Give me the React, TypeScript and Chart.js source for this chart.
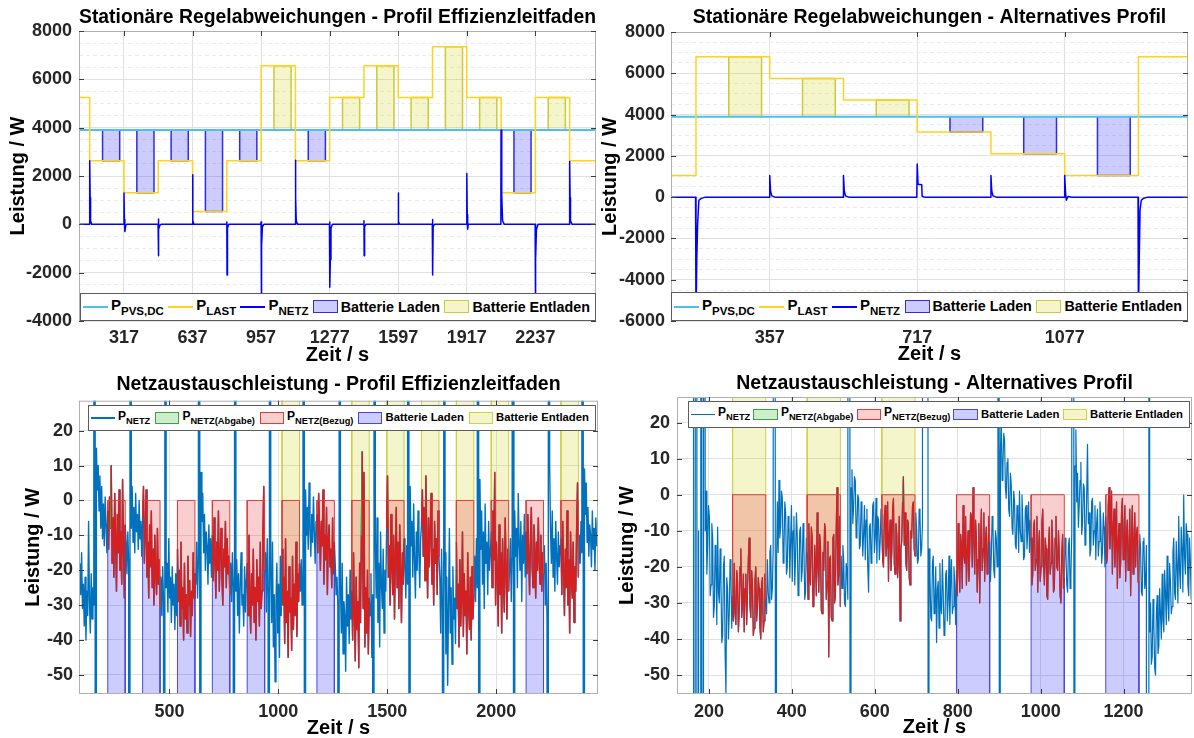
import React, { useEffect, useRef } from "react";
import { Chart, registerables } from "chart.js";

Chart.register(...registerables);

const FONT = '"Liberation Sans", Arial, Helvetica, sans-serif';
Chart.defaults.font.family = FONT;

// ================= DATA =================
// --- Stationäre Regelabweichungen - Profil Effizienzleitfaden (top left)
const tlXRange = [107, 2520];
const tlYRange = [-4000, 8000];
const tlXTicks = [317, 637, 957, 1277, 1597, 1917, 2237];
const tlYMajor = [-4000, -2000, 0, 2000, 4000, 6000, 8000];
const tlStepTimes = [157, 317, 477, 637, 797, 957, 1117, 1277, 1437, 1597, 1757, 1917, 2077, 2237, 2397];
const tlLoad = [5250, 2630, 1310, 2630, 530, 2630, 6560, 2630, 5250, 6560, 5250, 7350, 5250, 1310, 5250, 2630];
const tlPvs = 3900;
const tlBatStart = [217, 377, 537, 697, 857, 1017, 1177, 1337, 1497, 1657, 1817, 1977, 2137, 2297];
const tlBatEnd = [297, 457, 617, 777, 937, 1097, 1257, 1417, 1577, 1737, 1897, 2057, 2217, 2377];
const tlNetz = [
  [107, 0],
  [156, 0], [157, 2630], [159, 1100], [161, 150], [166, 0],
  [316, 0], [317, 1300], [319, 200], [321, -300], [325, -40], [330, 0],
  [476, 0], [477, 220], [478, -1300], [480, -200], [485, -30], [490, 0],
  [636, 0], [637, 2050], [639, 150], [643, 0],
  [796, 0], [797, 100], [798, -2100], [800, -150], [806, 0],
  [956, 0], [957, 100], [958, -3900], [960, -900], [963, -100], [970, 0],
  [1116, 0], [1117, 2650], [1119, 1100], [1121, 150], [1127, 0],
  [1276, 0], [1277, 100], [1278, -2600], [1280, -1450], [1283, -150], [1290, 0],
  [1436, 0], [1437, 150], [1438, -1300], [1440, -100], [1446, 0],
  [1596, 0], [1597, 1300], [1599, 100], [1604, 0],
  [1756, 0], [1757, 200], [1758, -2100], [1760, -100], [1766, 0],
  [1916, 0], [1917, 2100], [1919, 400], [1921, -200], [1924, 0],
  [2076, 0], [2077, 3900], [2079, 2450], [2081, 1200], [2084, 150], [2092, 0],
  [2236, 0], [2237, -3900], [2239, -1450], [2242, -200], [2250, 0],
  [2396, 0], [2397, 2600], [2399, 1100], [2401, 150], [2408, 0],
  [2520, 0],
];

// --- Stationäre Regelabweichungen - Alternatives Profil (top right)
const trXRange = [116, 1378];
const trYRange = [-6000, 8000];
const trXTicks = [357, 717, 1077];
const trYMajor = [-6000, -4000, -2000, 0, 2000, 4000, 6000, 8000];
const trStepTimes = [177, 357, 537, 717, 897, 1077, 1257];
const trLoad = [1050, 6800, 5750, 4700, 3150, 2100, 1050, 6800];
const trPvs = 3900;
const trBatStart = [257, 437, 617, 797, 977, 1157];
const trBatEnd = [337, 517, 697, 877, 1057, 1237];
const trNetz = [
  [116, 0],
  [176, 0], [177, -5750], [179, -3000], [181, -1300], [184, -150], [190, -60], [200, 0],
  [356, 0], [357, 1050], [359, 300], [362, 60], [370, 0],
  [536, 0], [537, 1050], [539, 300], [542, 60], [550, 0],
  [716, 0], [717, 1600], [719, 620], [728, 600], [729, 40], [735, 0],
  [896, 0], [897, 1050], [899, 300], [902, 60], [910, 0],
  [1076, 0], [1077, 1050], [1079, 250], [1081, -150], [1085, 30], [1095, 0],
  [1256, 0], [1257, -5750], [1259, -3000], [1261, -600], [1264, -150], [1270, -50], [1280, 0],
  [1378, 0],
];

// --- Netzaustauschleistung - Profil Effizienzleitfaden (bottom left), samples every 4 s from t = 89 s
const blXRange = [85, 2467];
const blYRange = [-55.5, 28.6];
const blXTicks = [500, 1000, 1500, 2000];
const blYTicks = [-50, -40, -30, -20, -10, 0, 10, 20];
const blT0 = 89;
const blDt = 4;
const blNetz = [
  -18, -27, -15, -31, -24, -36, -22, -40, -26, -33, -6, -29, -38, -21, -34, -25, -30,
  1500, -1200, 15, 3, 10, -3, 7, -8, 4, -11, -1, -13, 1, -7, -15,
  -3, -14, 1, -8, 10, -18, -5, -22, 2, -11, -26, -4, -15, 3, -20, -9, -24, 6, -13, -28, -7, -12, -21, -9, -18,
  -1400, 1400, -8, 4, -12, -2, -15, 2, -9, -4, -14, 0, -11, -6, -16,
  -5, 4, -18, -9, 3, -22, -12, -28, -7, -19, -3, -25, -14, -30, -10, -21, -27, -8, -24, -17, -31, -22, -33, -19, -29,
  -1400, 1400, -25, -18, -32, -11, -28, -22, -35, -19, -30, -24, -37, -21, -33,
  -14, -29, -20, -36, -12, -31, -25, -40, -18, -34, -27, -38, -16, -30, -23, -39, -26, -33, -15, -28, -21, -24, -12, -28, -17,
  1500, -1200, 8, -6, 2, -15, -4, -20, -9, -13, -24, -7, -18, -11, -22,
  -10, -23, -5, -17, -28, -12, -20, -3, -26, -15, -8, -22, -30, -14, -19, -6, -25, -11, -21, -16, -27, -18, -29, -15, -25,
  -1400, 1400, -26, -17, -33, -21, -38, -24, -15, -30, -27, -36, -19, -32, -23,
  -18, -33, -10, -27, -38, -21, -30, -14, -35, -25, -40, -17, -29, -22, -36, -12, -31, -26, -9, 4, -20, -15, -32, -11, -27,
  -1400, 1400, -20, -35, -12, -42, -27, -52, -30, -18, -38, -24, -45, -16, -33,
  -14, -30, -22, -41, -11, -35, -26, -45, -19, -32, -28, -43, -16, -37, -24, -33, -12, -39, -21, -29, -18, -26, -17, -30, -22,
  1500, -1200, 3, -10, -2, -14, 5, -8, -16, -4, -12, 1, -9, -18, -6,
  -4, -15, 2, -9, -20, -6, -13, 3, -24, -10, -17, -2, -27, -11, -7, -19, -14, -25, -5, -21, -12, -18, -27, -22, -30,
  -1400, 1400, -24, -38, -18, -44, -29, -33, -49, -22, -36, -27, -41, -20, -34,
  -26, -40, -15, -33, -46, -22, -37, -29, -48, -18, -35, -10, 14, -31, 8, -42, -25, -38, -20, -44, -28, -33, -21, -45, -27,
  -1400, 1400, -12, -28, -5, -35, -18, -42, -9, -24, -31, -14, -38, -20, -26,
  -8, 7, -22, -13, -30, -4, -19, -27, -10, -34, -16, -2, -25, -12, -31, -7, -21, -35, -15, -24, -11, -19, -28, -13, -24,
  1500, -1200, 4, -13, -6, -22, -1, -17, -28, -9, -20, -3, -15, -25, -11,
  -7, 3, -16, -2, -23, 7, -12, -28, -5, -19, -9, 2, -24, -14, -30, -6, -18, -11, -27, -3, -16, -22, -38, -14, -31,
  -1400, 1400, -15, -44, -22, -53, -30, -8, -38, -25, -47, -19, -34, -28, -41,
  -12, -31, -24, -42, -17, -36, -28, -9, -39, -21, -33, -26, -44, -15, -30, -37, -22, -40, -19, -34, -27, -16, -29, -11, -25,
  1500, -1200, 6, -14, -3, -24, -9, -31, -1, -18, -12, -27, -6, -20, -15,
  -9, -25, -3, -17, 8, -30, -12, -21, -36, -7, -27, -15, -38, -11, -23, -32, -5, -19, -34, -14, -26, -20, -11, -29, -16,
  1500, -1200, -3, -16, -8, -25, 2, -12, -20, -6, -29, -10, -18, -4, -22,
  -9, -21, -4, -16, -27, -11, -2, -19, -25, -7, -14, -28, -12, -20, -5, -17, -24, -10, -26, -15, -21, -13, -30, -18, -34,
  -1400, 1400, 10, -8, -18, -3, -22, -11, -26, -6, -16, -24, -9, -19, -13,
  -11, -27, -6, -20, -33, -14, -25, -3, -30, -17, -38, -9, -23, -28, -12, -35, -19, -26, -8, 5, -22, -10, -18, -6, -15,
  1500, -1200, 9, -4, 5, -12, -2, -16, -7, -10, -19, -3, -14, -8, -20, -5, -13, -9,
];

// --- Netzaustauschleistung - Alternatives Profil (bottom right), samples every 2 s from t = 161 s
const brXRange = [123, 1365];
const brYRange = [-55.25, 27.1];
const brXTicks = [200, 400, 600, 800, 1000, 1200];
const brYTicks = [-50, -40, -30, -20, -10, 0, 10, 20];
const brT0 = 161;
const brDt = 2;
const brNetz = [
  900, -30, -900, -20, 700, -25, -1200, -10,
  // 177 .. 255
  -4000, -2000, 900, -15, -800, -20, 500, -10,
  1, -22, -14, -3, -6, -28, -25, -8, -12, -34, -31, -14, -19, -36, -9, -27,
  -30, -15, -24, -41, -39, -20, -17, -44, -55, -23, -26, -40, -33, -18, -22, -37,
  // 257 .. 337
  -28, -35, -19, -33, -36, -21, -24, -38, -33, -20, -15, -34, -30, -22, -38, -26, -22, -36, -27, -18,
  -12, -31, -34, -21, -25, -39, -37, -24, -20, -35, -31, -23, -26, -37, -40, -25, -23, -38, -35, -22, -29,
  -33, -18, -27, -30, -16, -14, -29, -26, -15,
  // 357 .. 435
  1050, 300, -300, -20, -2, -16, 4, -12, -9, 1, -1, -19, -15, -2, -5, -22, -20, -6, -8, -23,
  -13, -3, -24, -10, -6, -25, -17, -5, -11, -28, -26, -10, -9, -24, -21, -8, -14, -29, -27, -12,
  // 437 .. 517
  -16, -29, -8, -22, -25, -9, -12, -31, -30, -14, -19, -28, -5, -20, -27, -11, -14, -32, -33, -16,
  -21, -8, -10, -29, -24, -13, -45, -18, -17, -34, -35, -12, -11, -30, -28, -9, 2, -25, -22, -6, -31,
  -17, -26, -14, -18, -30, -31, -19, -21, -29,
  // 537 .. 615
  1050, 300, -300, 2, 7, -8, -3, 5, 4, -12, -9, 0, -1, -15, -14, -2, -6, -17, -11, -3,
  -18, -7, -4, -20, -27, -9, -8, -19, -15, -3, -2, -16, -12, -1, -19, -6, -7, -18, -13, -4,
  // 617 .. 697
  -9, -18, -20, -6, -3, -17, -14, -2, -24, -11, -7, -21, -16, -4, -1, -19, -22, -8, -11, -23,
  -18, -6, -35, -15, -13, -2, 5, -14, -5, -19, -21, -7, -8, -23, -25, -10, -12, -3, -2, -15, -17,
  -5, -10, -19, -18, -4, -6, -17, -15, -8,
  // 717 .. 795
  1600, 620, 600, 600, 600, 600, -300, -15, -22, -34, -35, -19, -17, -33, -30, -20, -41, -26, -24, -37,
  -19, -31, -33, -18, -27, -39, -38, -22, -21, -35, -29, -17, -36, -24, -18, -33, -31, -20, -25, -36,
  // 797 .. 877
  -21, -28, -8, -19, -27, -11, -14, -26, -3, -17, -19, -6, -25, -16, -10, -24, -16, -5, -6, -20,
  2, -13, -22, -7, -12, -27, -18, -8, -30, -14, -4, -21, -15, -5, -24, -12, -9, -22, -20, -6, -13,
  -24, -17, -6, -9, -21, -23, -10, -12, -20,
  // 897 .. 975
  1050, 300, -300, 12, 22, 4, 8, 17, 15, 2, -1, 9, 10, -4, -6, 6, 3, -9, -11, 1,
  -2, -14, -15, -3, -5, -16, 1, -10, -13, 0, -8, -18, -17, -4, -3, -15, -10, -2, -16, -7,
  // 977 .. 1057
  -12, -25, -22, -9, -7, -21, -18, -6, -27, -15, -10, -24, -20, -8, -4, -19, -25, -12, -15, -28,
  -29, -14, -9, -22, -19, -7, -13, -27, -26, -12, -6, -20, -21, -10, -17, -28, -30, -16, -11, -26, -23,
  -12, -16, -25, -27, -14, -12, -26, -22, -11,
  // 1077 .. 1155
  1050, 300, -300, 8, 18, -2, 6, -9, -3, 4, 9, -11, -8, 3, 2, -14, -12, 0, 14, -8,
  -5, -17, -15, -2, -1, -14, -10, -3, -18, -8, -4, -17, -13, -2, -7, -19, -16, -5, -9, -20,
  // 1157 .. 1237
  -6, -19, -17, -3, 2, -15, -10, 1, -22, -9, -4, -20, -14, -2, -26, -13, -8, -23, -19, -5,
  -1, -18, -12, -3, -24, -11, -7, -21, -16, -4, -28, -12, -3, -22, -13, -5, -20, -11, -9, -24, -25,
  -11, -15, -27, -28, -13, -12, -26, -24, -14,
  // 1257 .. 1365
  -4000, -2000, 800, -38, -30, -47, -45, -29, -36, -48, -50, -33, -28, -44, -42, -26, -33, -40, -22, -35,
  -38, -21, -27, -36, -17, -30, -35, -19, -24, -33, -31, -16, -12, -27, -29, -13, -20, -30, -6, -21,
  -26, -9, -15, -27, 0, -17, -22, -8, -11, -25, -28, -12, -18, -29, -24,
];

// ================= STYLE =================
const PVS_C = "#4DBEEE";
const LAST_C = "#FFD21F";
const NETZ_C = "#0000FF";
const LADEN_FILL = "rgba(0,0,255,0.2)";
const LADEN_EDGE = "#2E2EE0";
const ENT_FILL = "rgba(204,204,0,0.2)";
const ENT_EDGE = "#CACA3A";
const NETZ_BLUE = "#0072BD";
const RED_C = "#D42020";
const RED_EDGE = "#D84040";
const PINK_FILL = "rgba(230,60,60,0.25)";
const GREEN_C = "#3CA03C";
const GREEN_FILL = "rgba(0,170,0,0.2)";
const TICK_FONT = { family: FONT, size: 18, weight: "bold" as const };
const AXT_FONT = { family: FONT, size: 20, weight: "bold" as const, lineHeight: 1 };
const TITLE_FONT = { family: FONT, size: 19.5, weight: "bold" as const, lineHeight: 1.2 };

const framePlugin = {
  id: "frame",
  afterDatasetsDraw(chart: any) {
    const { ctx, chartArea: a, scales } = chart;
    ctx.save();
    ctx.strokeStyle = "#b0b0b0";
    ctx.lineWidth = 1;
    ctx.strokeRect(a.left + 0.5, a.top + 0.5, a.right - a.left - 1, a.bottom - a.top - 1);
    ctx.strokeStyle = "#3c3c3c";
    ctx.beginPath();
    scales.x.ticks.forEach((t: any) => {
      const px = Math.round(scales.x.getPixelForValue(t.value)) + 0.5;
      ctx.moveTo(px, a.top);
      ctx.lineTo(px, a.top + 5);
      ctx.moveTo(px, a.bottom);
      ctx.lineTo(px, a.bottom - 5);
    });
    scales.y.ticks.forEach((t: any) => {
      if (!t.label) return;
      const py = Math.round(scales.y.getPixelForValue(t.value)) + 0.5;
      ctx.moveTo(a.left, py);
      ctx.lineTo(a.left + 5, py);
      ctx.moveTo(a.right, py);
      ctx.lineTo(a.right - 5, py);
    });
    ctx.stroke();
    ctx.restore();
  },
};

function gridValues(min: number, max: number, step: number) {
  const out: number[] = [];
  for (let v = Math.ceil(min / step) * step; v <= max + 1e-9; v += step) out.push(v);
  return out;
}

function yAxis(o: any) {
  return {
    type: "linear",
    position: "left",
    min: o.range[0],
    max: o.range[1],
    afterFit: (s: any) => {
      s.width = o.width;
    },
    afterBuildTicks: (s: any) => {
      s.ticks = o.grid.map((v: number) => ({ value: v }));
    },
    ticks: {
      autoSkip: false,
      padding: o.tickPad,
      color: "#262626",
      font: TICK_FONT,
      callback: (v: number) => (o.major.includes(v) ? String(v) : ""),
    },
    grid: {
      drawTicks: false,
      lineWidth: 1,
      color: (c: any) => (c.tick && o.major.includes(c.tick.value) ? "#e1e1e1" : "#ebebeb"),
    },
    border: {
      display: false,
      dash: (c: any) => (c.tick && !o.major.includes(c.tick.value) ? [4, 3] : []),
    },
    title: { display: true, text: "Leistung / W", color: "#000", font: AXT_FONT, padding: { top: o.titlePad, bottom: 0 } },
  };
}

function xAxis(o: any) {
  return {
    type: "linear",
    position: "bottom",
    min: o.range[0],
    max: o.range[1],
    afterFit: (s: any) => {
      s.height = o.height;
    },
    afterBuildTicks: (s: any) => {
      s.ticks = o.ticks.map((v: number) => ({ value: v }));
    },
    ticks: {
      autoSkip: false,
      maxRotation: 0,
      padding: o.tickPad,
      color: "#262626",
      font: TICK_FONT,
      callback: (v: number) => String(v),
    },
    grid: { drawTicks: false, lineWidth: 1, color: "#e1e1e1" },
    border: { display: false },
    title: { display: true, text: "Zeit / s", color: "#000", font: AXT_FONT, padding: { top: 0, bottom: o.titlePad } },
  };
}

function makeConfig(o: any, datasets: any[]) {
  return {
    type: "line",
    data: { datasets },
    plugins: [framePlugin],
    options: {
      animation: false,
      responsive: false,
      maintainAspectRatio: false,
      events: [],
      layout: { padding: { left: o.padL, right: o.padR, top: 0, bottom: 0 } },
      elements: {
        point: { radius: 0, hoverRadius: 0 },
        line: { tension: 0, borderJoinStyle: "round", borderCapStyle: "butt" },
      },
      plugins: {
        legend: { display: false },
        tooltip: { enabled: false },
        title: {
          display: true,
          text: o.title,
          color: "#000",
          font: TITLE_FONT,
          fullSize: false,
          padding: { top: o.titleTop, bottom: o.titleBottom },
        },
      },
      scales: { x: xAxis(o.x), y: yAxis(o.y) },
    },
  };
}

function topDatasets(o: any) {
  const [x0, x1] = o.xRange;
  const ds: any[] = [];
  o.batStart.forEach((s: number, i: number) => {
    const e = o.batEnd[i];
    const level = o.load[i + 1];
    const laden = level < o.pvs;
    ds.push({
      data: [
        { x: s, y: o.pvs },
        { x: s, y: level },
        { x: e, y: level },
        { x: e, y: o.pvs },
      ],
      borderColor: laden ? LADEN_EDGE : ENT_EDGE,
      backgroundColor: laden ? LADEN_FILL : ENT_FILL,
      borderWidth: 1.5,
      fill: { value: o.pvs },
      order: 4,
    });
  });
  ds.push({
    data: [
      { x: x0, y: o.pvs },
      { x: x1, y: o.pvs },
    ],
    borderColor: PVS_C,
    borderWidth: 2,
    fill: false,
    order: 3,
  });
  const lastPts = [
    { x: x0, y: o.load[0] },
    ...o.steps.map((t: number, i: number) => ({ x: t, y: o.load[i + 1] })),
    { x: x1, y: o.load[o.load.length - 1] },
  ];
  ds.push({ data: lastPts, stepped: true, borderColor: LAST_C, borderWidth: 1.5, fill: false, order: 2 });
  ds.push({
    data: o.netz.map((p: number[]) => ({ x: p[0], y: p[1] })),
    borderColor: NETZ_C,
    borderWidth: 1.5,
    fill: false,
    order: 1,
  });
  return ds;
}

function bottomDatasets(o: any) {
  const pts = o.netz.map((v: number, i: number) => ({ x: o.t0 + i * o.dt, y: v }));
  const ds: any[] = [{ data: pts, borderColor: NETZ_BLUE, borderWidth: o.lw, fill: false, order: 4 }];
  o.batStart.forEach((s: number, k: number) => {
    const e = o.batEnd[k];
    const seg = pts.slice(Math.round((s - o.t0) / o.dt), Math.round((e - o.t0) / o.dt) + 1);
    const laden = o.load[k + 1] < o.pvs;
    const far = laden ? -1000 : 1000;
    const edge = laden ? "#4848E0" : "#D0D040";
    const n = seg.length + 2;
    ds.push({
      data: [{ x: s, y: far }, ...seg.map((p: any) => ({ ...p })), { x: e, y: far }],
      backgroundColor: laden ? LADEN_FILL : ENT_FILL,
      borderColor: "rgba(0,0,0,0)",
      borderWidth: 1,
      fill: { value: far },
      segment: {
        borderColor: (c: any) => (c.p0DataIndex === 0 || c.p1DataIndex === n - 1 ? edge : "rgba(0,0,0,0)"),
      },
      order: 5,
    });
    ds.push({
      data: [{ x: s, y: 0 }, ...seg.map((p: any) => ({ ...p })), { x: e, y: 0 }],
      borderColor: RED_C,
      borderWidth: o.lw,
      fill: { target: "origin", above: GREEN_FILL, below: PINK_FILL },
      segment: {
        borderColor: (c: any) =>
          c.p0DataIndex === 0 || c.p1DataIndex === n - 1
            ? RED_EDGE
            : c.p0.parsed.y + c.p1.parsed.y > 0
            ? GREEN_C
            : RED_C,
        borderWidth: (c: any) => (c.p0DataIndex === 0 || c.p1DataIndex === n - 1 ? 1 : o.lw),
      },
      order: 2,
    });
    ds.push({
      data: [
        { x: s, y: 0 },
        { x: e, y: 0 },
      ],
      borderColor: RED_EDGE,
      borderWidth: 1,
      fill: false,
      order: 1,
    });
  });
  return ds;
}

// ================= COMPONENTS =================
function Legend({ box, items, sz }: any) {
  return (
    <div
      style={{
        position: "absolute",
        left: box[0],
        top: box[1],
        width: box[2],
        height: box[3],
        boxSizing: "border-box",
        border: "1px solid #5c5c5c",
        background: "#fff",
        display: "flex",
        alignItems: "center",
        justifyContent: "space-between",
        padding: `0 ${sz.padR}px 0 ${sz.padL}px`,
        fontFamily: FONT,
        fontWeight: "bold",
        color: "#000",
        whiteSpace: "nowrap",
      }}
    >
      {items.map((it: any, i: number) => (
        <div key={i} style={{ display: "flex", alignItems: "center" }}>
          {it.kind === "line" ? (
            <span style={{ display: "inline-block", width: sz.lineW, height: sz.lineT, background: it.color }} />
          ) : (
            <span
              style={{
                display: "inline-block",
                width: sz.patchW,
                height: sz.patchH,
                boxSizing: "border-box",
                background: it.fill,
                border: `1px solid ${it.edge}`,
              }}
            />
          )}
          <span
            style={{
              marginLeft: sz.gap,
              fontSize: it.sub ? sz.main : sz.text,
              lineHeight: 1,
              position: "relative",
              top: it.sub ? sz.mainTop : 0,
            }}
          >
            {it.label}
            {it.sub ? <span style={{ fontSize: sz.sub, position: "relative", top: sz.subTop }}>{it.sub}</span> : null}
          </span>
        </div>
      ))}
    </div>
  );
}

function Panel({ left, top, width, height, build, children }: any) {
  const ref = useRef<HTMLCanvasElement>(null);
  useEffect(() => {
    const chart = new Chart(ref.current as HTMLCanvasElement, build() as any);
    return () => chart.destroy();
  }, []);
  return (
    <div style={{ position: "absolute", left, top, width, height }}>
      <canvas ref={ref} width={width} height={height} style={{ width, height, display: "block" }} />
      {children}
    </div>
  );
}

const topItems = [
  { kind: "line", color: PVS_C, label: "P", sub: "PVS,DC" },
  { kind: "line", color: LAST_C, label: "P", sub: "LAST" },
  { kind: "line", color: NETZ_C, label: "P", sub: "NETZ" },
  { kind: "patch", fill: LADEN_FILL, edge: LADEN_EDGE, label: "Batterie Laden" },
  { kind: "patch", fill: ENT_FILL, edge: ENT_EDGE, label: "Batterie Entladen" },
];
const bottomItems = [
  { kind: "line", color: NETZ_BLUE, label: "P", sub: "NETZ" },
  { kind: "patch", fill: GREEN_FILL, edge: GREEN_C, label: "P", sub: "NETZ(Abgabe)" },
  { kind: "patch", fill: PINK_FILL, edge: RED_EDGE, label: "P", sub: "NETZ(Bezug)" },
  { kind: "patch", fill: LADEN_FILL, edge: "#4848E0", label: "Batterie Laden" },
  { kind: "patch", fill: ENT_FILL, edge: "#D0D040", label: "Batterie Entladen" },
];
const topSz = { padL: 2, padR: 5, lineW: 25, lineT: 2, patchW: 25, patchH: 13, gap: 3, main: 15, sub: 11.5, text: 14.3, mainTop: -2, subTop: 5 };
const botSz = { padL: 2, padR: 6, lineW: 24, lineT: 1.5, patchW: 24.5, patchH: 11.5, gap: 3, main: 12, sub: 9.3, text: 11.3, mainTop: -2, subTop: 4 };

function buildTL() {
  const o = {
    title: "Stationäre Regelabweichungen - Profil Effizienzleitfaden",
    padL: 4, padR: 4, titleTop: 5.6, titleBottom: 2,
    x: { range: tlXRange, ticks: tlXTicks, height: 49, tickPad: 6, titlePad: 5 },
    y: { range: tlYRange, grid: gridValues(tlYRange[0], tlYRange[1], 500), major: tlYMajor, width: 75, tickPad: 7, titlePad: 4 },
  };
  return makeConfig(o, topDatasets({ xRange: tlXRange, steps: tlStepTimes, load: tlLoad, pvs: tlPvs, batStart: tlBatStart, batEnd: tlBatEnd, netz: tlNetz }));
}

function buildTR() {
  const o = {
    title: "Stationäre Regelabweichungen - Alternatives Profil",
    padL: 0, padR: 6, titleTop: 6.1, titleBottom: 2.5,
    x: { range: trXRange, ticks: trXTicks, height: 49, tickPad: 6, titlePad: 6 },
    y: { range: trYRange, grid: gridValues(trYRange[0], trYRange[1], 500), major: trYMajor, width: 74, tickPad: 6, titlePad: 3.6 },
  };
  return makeConfig(o, topDatasets({ xRange: trXRange, steps: trStepTimes, load: trLoad, pvs: trPvs, batStart: trBatStart, batEnd: trBatEnd, netz: trNetz }));
}

function buildBL() {
  const o = {
    title: "Netzaustauschleistung - Profil Effizienzleitfaden",
    padL: 4, padR: 2, titleTop: 2.5, titleBottom: 4.8,
    x: { range: blXRange, ticks: blXTicks, height: 44, tickPad: 7, titlePad: 0 },
    y: { range: blYRange, grid: blYTicks, major: blYTicks, width: 75, tickPad: 6, titlePad: 19 },
  };
  return makeConfig(o, bottomDatasets({ netz: blNetz, t0: blT0, dt: blDt, lw: 1.4, batStart: tlBatStart, batEnd: tlBatEnd, load: tlLoad, pvs: tlPvs }));
}

function buildBR() {
  const o = {
    title: "Netzaustauschleistung - Alternatives Profil",
    padL: 0, padR: 2, titleTop: 1.5, titleBottom: 2.1,
    x: { range: brXRange, ticks: brXTicks, height: 44, tickPad: 7, titlePad: 1 },
    y: { range: brYRange, grid: brYTicks, major: brYTicks, width: 80, tickPad: 7, titlePad: 20 },
  };
  return makeConfig(o, bottomDatasets({ netz: brNetz, t0: brT0, dt: brDt, lw: 1.2, batStart: trBatStart, batEnd: trBatEnd, load: trLoad, pvs: trPvs }));
}

export default function App() {
  return (
    <div style={{ position: "absolute", left: 0, top: 0, width: 1194, height: 738, background: "#fff", overflow: "hidden" }}>
      <Panel left={0} top={0} width={600} height={370} build={buildTL}>
        <Legend box={[80, 293, 516, 28]} items={topItems} sz={topSz} />
      </Panel>
      <Panel left={597} top={0} width={597} height={370} build={buildTR}>
        <Legend box={[74, 292, 517, 29]} items={topItems} sz={topSz} />
      </Panel>
      <Panel left={0} top={370} width={600} height={368} build={buildBL}>
        <Legend box={[88, 35, 508, 26]} items={bottomItems} sz={botSz} />
      </Panel>
      <Panel left={597} top={370} width={597} height={368} build={buildBR}>
        <Legend box={[91, 31, 502, 27]} items={bottomItems} sz={botSz} />
      </Panel>
    </div>
  );
}
